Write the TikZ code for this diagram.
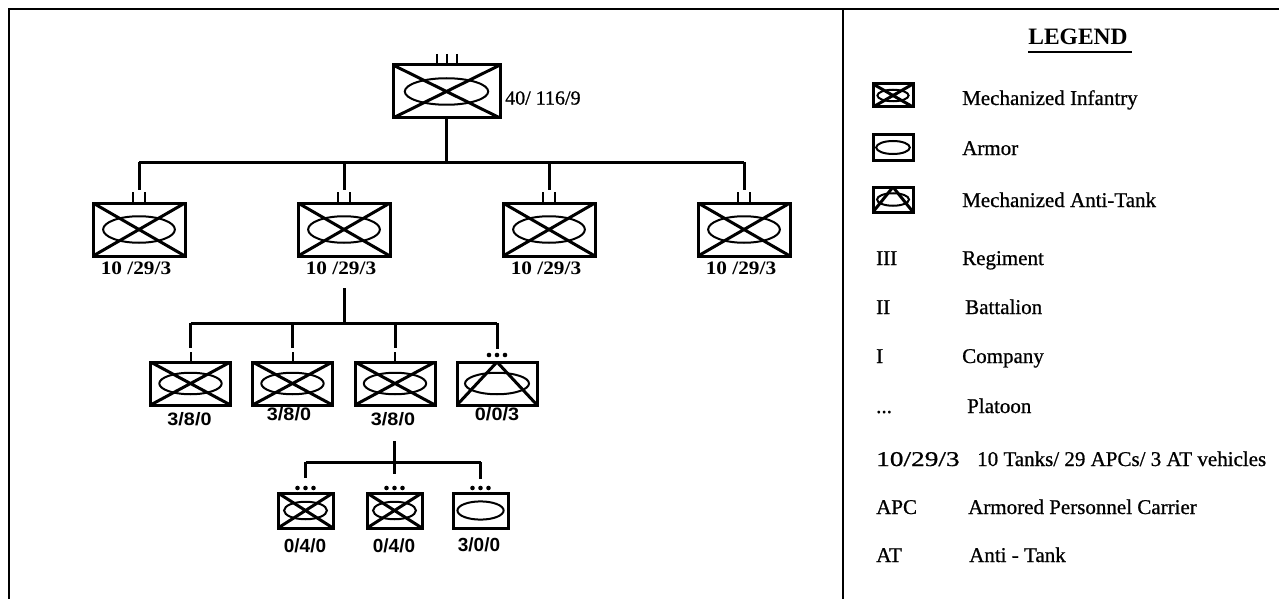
\documentclass[tikz,border=0pt]{standalone}
\usepackage{fontspec}
\setmainfont{Liberation Serif}
\newfontfamily\arialf{Liberation Sans}
\newfontfamily\scanf{Liberation Serif}[FakeBold=0.8]
\usetikzlibrary{calc}
\newcommand\ppcross{\draw[line width=3pt] (path picture bounding box.north west) -- (path picture bounding box.south east) (path picture bounding box.south west) -- (path picture bounding box.north east);}
\newcommand\ppoval[2]{\draw[line width=2pt] let \p1=($(path picture bounding box.north east)-(path picture bounding box.south west)$) in (path picture bounding box.center) ellipse [x radius={#1*\x1}, y radius={#2*\y1}];}
\newcommand\pptri{\draw[line width=3pt] (path picture bounding box.south west) -- (path picture bounding box.north) -- (path picture bounding box.south east);}
\newcommand\wide[2]{\scalebox{#1}[1]{#2}}
\begin{document}
\begin{tikzpicture}[x=1pt,y=-1pt,
  unit/.style 2 args={draw, line width=3pt, minimum width=#1, minimum height=#2, inner sep=0pt, outer sep=0pt},
  infantry/.style={path picture={\ppcross\ppoval{0.39}{0.25}}},
  armor/.style={path picture={\ppoval{0.42}{0.26}}},
  antitank/.style={path picture={\pptri\ppoval{0.4}{0.25}}},
  conn/.style={line width=3pt},
  echl/.style={line width=2pt},
  tlab/.style={font=\fontsize{19}{23}\selectfont\bfseries, inner sep=0pt},
  slab/.style={font=\arialf\fontsize{18}{22}\selectfont\bfseries, inner sep=0pt},
  plab/.style={font=\arialf\fontsize{19}{23}\selectfont\bfseries, inner sep=0pt},
  leg/.style={font=\scanf\fontsize{21}{25}\selectfont, anchor=base west, inner sep=0pt},
]
\useasboundingbox (0,0) rectangle (1279,599);
% frame
\draw[line width=2.4pt] (9,599) -- (9,9) -- (1279,9);
\draw[line width=2.4pt] (843,9) -- (843,599);

% regiment
\node[unit={107pt}{53pt}, infantry] (reg) at (446.5,91.5) {};
\foreach \dx in {-10,0,10} \draw[echl] ($(reg.north)+(\dx,-11)$) -- ($(reg.north)+(\dx,-1)$);
\node[font=\scanf\fontsize{20}{24}\selectfont, anchor=west, inner sep=0pt] (lreg) at (505,98) {40/ 116/9};

% battalions
\foreach \i/\x in {1/139,2/344,3/549,4/744}{
  \node[unit={92pt}{53pt}, infantry] (bn\i) at (\x,229.5) {};
  \node[tlab] (lbn\i) at (\x-3,268) {\wide{1.12}{10 /29/3}};
  \coordinate (r\i) at (\x,162);
  \draw[echl] ($(bn\i.north)+(-6,-11)$) -- ($(bn\i.north)+(-6,-1)$);
  \draw[echl] ($(bn\i.north)+(6,-11)$) -- ($(bn\i.north)+(6,-1)$);
  \draw[conn] (r\i) -- ($(bn\i.north)+(0,-13)$);
}
\coordinate (r0) at (446.5,162);
\draw[conn] (reg.south) -- (r0);
\draw[conn] (r1) -- (r4);

% companies
\node[unit={80pt}{43pt}, infantry] (co1) at (190.5,383.5) {};
\node[unit={80pt}{43pt}, infantry] (co2) at (292.5,383.5) {};
\node[unit={80pt}{43pt}, infantry] (co3) at (395,383.5) {};
\node[unit={80pt}{43pt}, antitank] (co4) at (497,383.5) {};
\node[slab] (lco1) at (189.5,419) {\wide{1.1}{3/8/0}};
\node[slab] (lco2) at (289,414) {\wide{1.1}{3/8/0}};
\node[slab] (lco3) at (393,419) {\wide{1.1}{3/8/0}};
\node[slab] (lco4) at (497,414) {\wide{1.1}{0/0/3}};
\coordinate (q0) at (344,288);
\coordinate (q0b) at (344,323);
\foreach \i in {1,...,4} \coordinate (q\i) at (co\i.north |- q0b);
\draw[conn] (q0) -- (q0b);
\draw[conn] (q1) -- (q4);
\foreach \i in {1,2,3}{
  \draw[conn] (q\i) -- ($(co\i.north)+(0,-14)$);
  \draw[echl] ($(co\i.north)+(0,-10)$) -- ($(co\i.north)+(0,-1)$);
}
\draw[conn] (q4) -- ($(co4.north)+(0,-13)$);
\foreach \dx in {-8,0,8} \fill ($(co4.north)+(\dx,-7)$) circle (2.3pt);

% platoons
\node[unit={55pt}{35pt}, infantry] (pl1) at (305.5,510.5) {};
\node[unit={55pt}{35pt}, infantry] (pl2) at (394.5,510.5) {};
\node[unit={55pt}{35pt}, armor] (pl3) at (480.5,510.5) {};
\node[plab] (lpl1) at (305,546) {0/4/0};
\node[plab] (lpl2) at (394,546) {0/4/0};
\node[plab] (lpl3) at (479,545) {3/0/0};
\coordinate (p0) at (394.5,441);
\coordinate (p1) at (305.5,462);
\coordinate (p3) at (480.5,462);
\draw[conn] (p0) -- ($(pl2.north)+(0,-19)$);
\draw[conn] (p1) -- (p3);
\draw[conn] (p1) -- ($(pl1.north)+(0,-15)$);
\draw[conn] (p3) -- ($(pl3.north)+(0,-14)$);
\foreach \i in {1,2,3}
  \foreach \dx in {-8,0,8} \fill ($(pl\i.north)+(\dx,-5)$) circle (2.3pt);

% legend
\node[font=\fontsize{23.5}{28}\selectfont\bfseries, anchor=base, inner sep=0pt] (lg) at (1078,45) {LEGEND};
\draw[line width=1.8pt] ([yshift=-7pt]lg.base west) -- ([yshift=-7pt,xshift=4pt]lg.base east);
\node[unit={40pt}{23pt}, infantry] (k1) at (893,95.5) {};
\node[unit={40pt}{25pt}, armor] (k2) at (893,147.5) {};
\node[unit={40pt}{25pt}, antitank] (k3) at (893,199.5) {};
\node[leg] (t1) at (962,105) {Mechanized Infantry};
\node[leg] (t2) at (962,155) {Armor};
\node[leg] (t3) at (962,207) {Mechanized Anti-Tank};
\node[leg] (s4) at (876,265) {III};
\node[leg] (t4) at (962,265) {Regiment};
\node[leg] (s5) at (876,314) {II};
\node[leg] (t5) at (965,314) {Battalion};
\node[leg] (s6) at (876,363) {I};
\node[leg] (t6) at (962,363) {Company};
\node[leg] (s7) at (876,413) {...};
\node[leg] (t7) at (967,413) {Platoon};
\node[leg] (s8) at (876,466) {\wide{1.3}{10/29/3}};
\node[leg] (t8) at (977,466) {10 Tanks/ 29 APCs/ 3 AT vehicles};
\node[leg] (s9) at (876,514) {APC};
\node[leg] (t9) at (968,514) {Armored Personnel Carrier};
\node[leg] (s10) at (876,562) {AT};
\node[leg] (t10) at (969,562) {Anti - Tank};
\end{tikzpicture}
\end{document}
